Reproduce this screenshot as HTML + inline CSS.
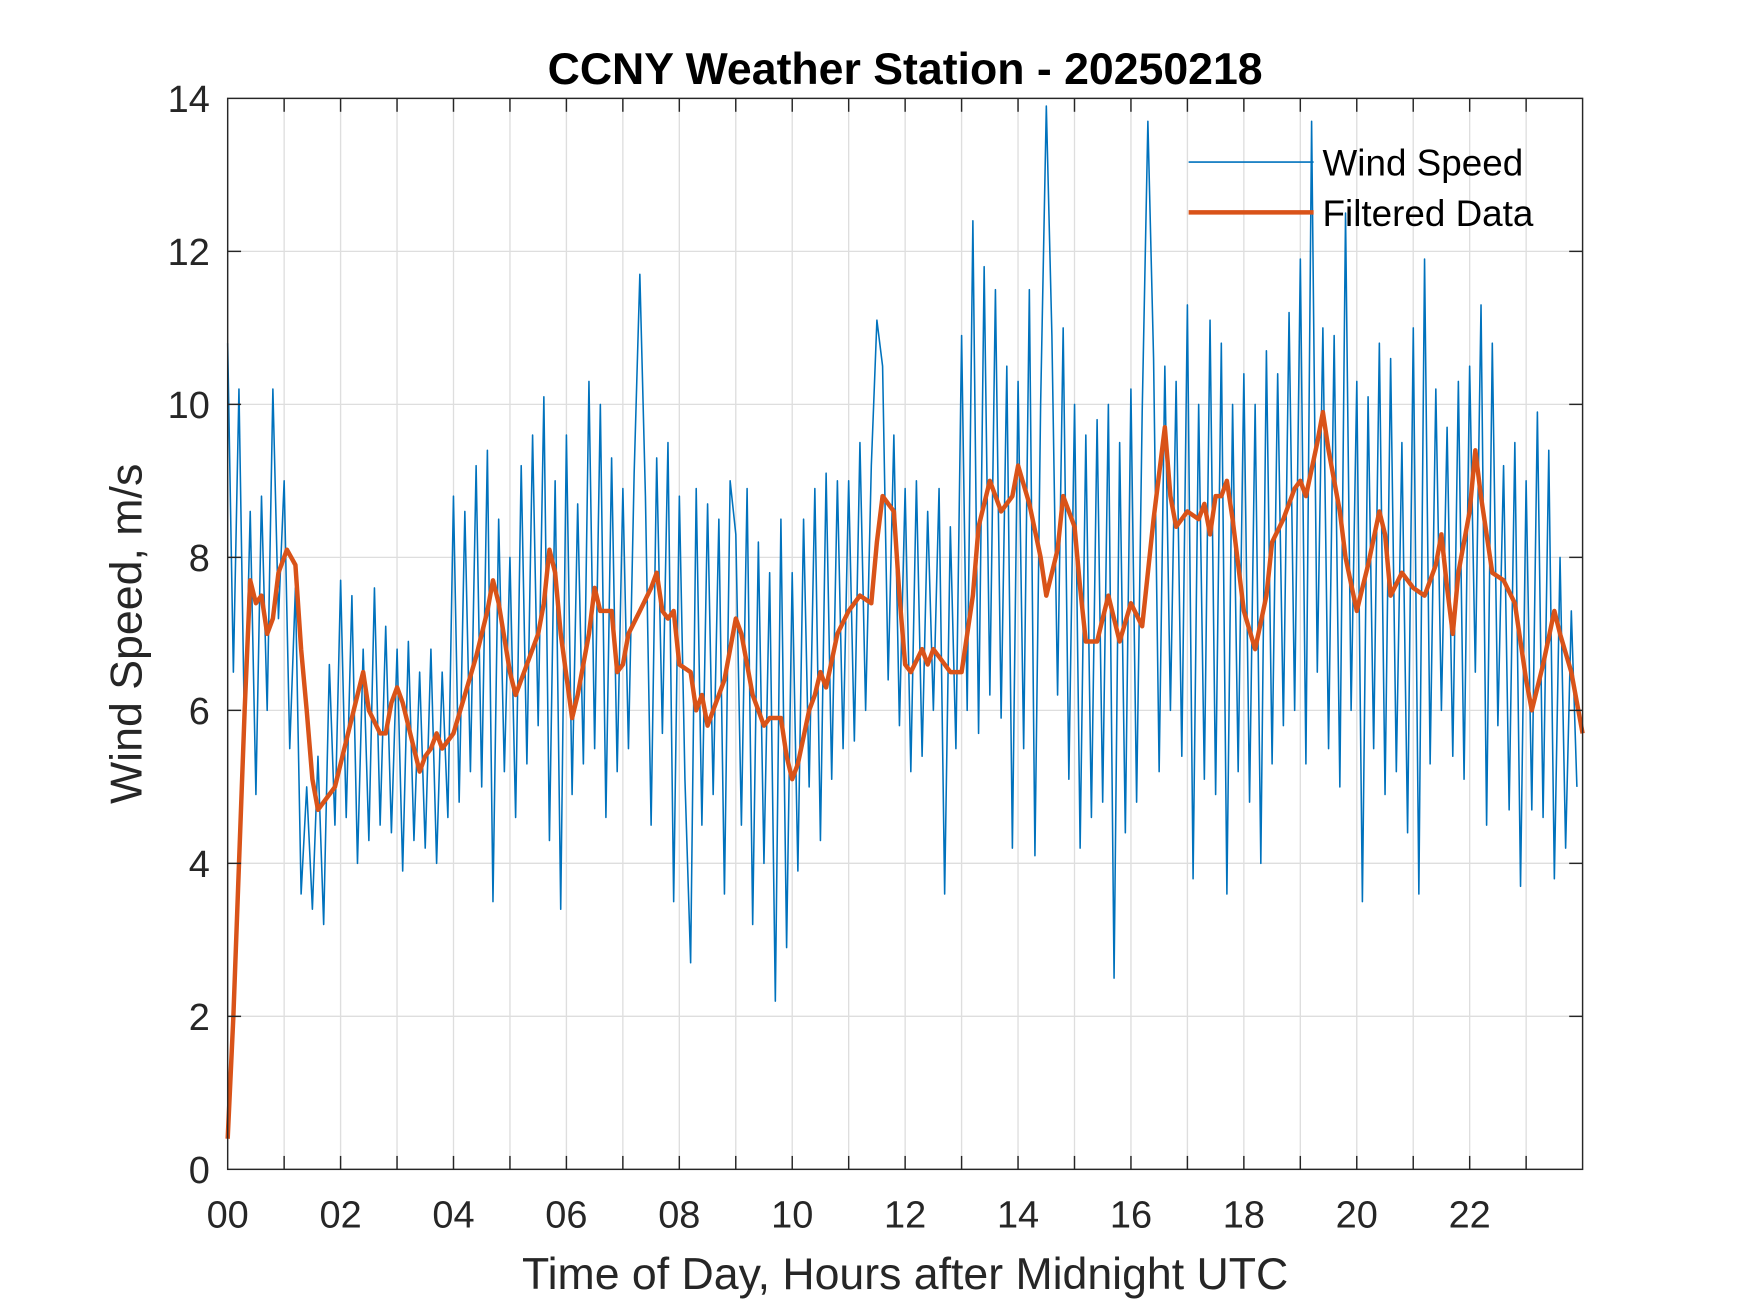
<!DOCTYPE html>
<html><head><meta charset="utf-8"><style>
html,body{margin:0;padding:0;background:#fff;}
svg{display:block;font-family:"Liberation Sans",Arial,sans-serif;}
</style></head><body>
<svg id="chart" width="1750" height="1313" viewBox="0 0 1568 1174.5" preserveAspectRatio="none" xmlns="http://www.w3.org/2000/svg">
<rect x="0" y="0" width="1568" height="1174.5" fill="#fff"/>
<rect x="204" y="88" width="1214" height="958" fill="#fff"/>
<g id="grid"></g>
<g id="series"></g>
<rect x="204" y="88" width="1214" height="958" fill="none" stroke="#262626" stroke-width="1.3"/>
<g id="ticks"></g>
<text x="811" y="75" text-anchor="middle" font-size="40" font-weight="bold" fill="#000">CCNY Weather Station - 20250218</text>
<text x="811" y="1153" text-anchor="middle" font-size="40" fill="#262626">Time of Day, Hours after Midnight UTC</text>
<text transform="translate(127,567) rotate(-90)" text-anchor="middle" font-size="40" fill="#262626">Wind Speed, m/s</text>
<g>
<line x1="1065" y1="145" x2="1177" y2="145" stroke="#0072BD" stroke-width="1.5"/>
<text x="1185" y="157" font-size="33" fill="#000">Wind Speed</text>
<line x1="1065" y1="190" x2="1177" y2="190" stroke="#D95319" stroke-width="4"/>
<text x="1185" y="202" font-size="33" fill="#000">Filtered Data</text>
</g>
</svg>
<script>
const xTickLabels = ["00","02","04","06","08","10","12","14","16","18","20","22"];
const yTickLabels = ["0","2","4","6","8","10","12","14"];
const windSpeed = [
10.8,6.5,10.2,5.6,8.6,4.9,8.8,6.0,10.2,7.2,
9.0,5.5,7.6,3.6,5.0,3.4,5.4,3.2,6.6,4.5,
7.7,4.6,7.5,4.0,6.8,4.3,7.6,4.5,7.1,4.4,
6.8,3.9,6.9,4.3,6.5,4.2,6.8,4.0,6.5,4.6,
8.8,4.8,8.6,5.2,9.2,5.0,9.4,3.5,8.5,5.2,
8.0,4.6,9.2,5.3,9.6,5.8,10.1,4.3,9.0,3.4,
9.6,4.9,8.7,5.3,10.3,5.5,10.0,4.6,9.3,5.2,
8.9,5.5,9.1,11.7,8.8,4.5,9.3,5.7,9.5,3.5,
8.8,5.1,2.7,8.9,4.5,8.7,4.9,8.5,3.6,9.0,
8.3,4.5,8.9,3.2,8.2,4.0,7.8,2.2,8.5,2.9,
7.8,3.9,8.5,5.0,8.9,4.3,9.1,5.1,9.0,5.5,
9.0,5.6,9.5,6.0,9.2,11.1,10.5,6.4,9.6,5.8,
8.9,5.2,9.0,5.4,8.6,6.0,8.9,3.6,8.4,5.5,
10.9,6.0,12.4,5.7,11.8,6.2,11.5,5.9,10.5,4.2,
10.3,5.5,11.5,4.1,10.0,13.9,10.9,6.2,11.0,5.1,
10.0,4.2,9.6,4.6,9.8,4.8,10.0,2.5,9.5,4.4,
10.2,4.8,9.9,13.7,10.6,5.2,10.5,6.0,10.3,5.4,
11.3,3.8,10.0,5.1,11.1,4.9,10.8,3.6,10.0,5.2,
10.4,4.8,10.0,4.0,10.7,5.3,10.4,5.8,11.2,6.0,
11.9,5.3,13.7,6.5,11.0,5.5,10.9,5.0,12.5,6.0,
10.3,3.5,10.1,5.5,10.8,4.9,10.6,5.2,9.5,4.4,
11.0,3.6,11.9,5.3,10.2,6.0,9.7,5.4,10.3,5.1,
10.5,6.5,11.3,4.5,10.8,5.8,9.2,4.7,9.5,3.7,
9.0,4.7,9.9,4.6,9.4,3.8,8.0,4.2,7.3,5.0
];
const windStepHours = 0.1;
const filteredHours = [0,0.1,0.3,0.4,0.5,0.6,0.7,0.8,0.9,1.05,1.2,1.3,1.4,1.5,1.6,1.7,1.9,2.1,2.3,2.4,2.5,2.7,2.8,2.9,3.0,3.1,3.3,3.4,3.5,3.6,3.7,3.8,4.0,4.2,4.4,4.6,4.7,4.8,5.0,5.1,5.3,5.5,5.6,5.7,5.8,5.9,6.1,6.2,6.4,6.5,6.6,6.8,6.9,7.0,7.1,7.3,7.5,7.6,7.7,7.8,7.9,8.0,8.2,8.3,8.4,8.5,8.6,8.8,9.0,9.1,9.3,9.4,9.5,9.6,9.8,9.9,10.0,10.1,10.3,10.4,10.5,10.6,10.8,11.0,11.2,11.4,11.5,11.6,11.8,11.9,12.0,12.1,12.3,12.4,12.5,12.6,12.8,13.0,13.2,13.3,13.5,13.7,13.9,14.0,14.2,14.4,14.5,14.7,14.8,15.0,15.1,15.2,15.4,15.5,15.6,15.8,16.0,16.2,16.4,16.6,16.7,16.8,17.0,17.2,17.3,17.4,17.5,17.6,17.7,17.8,18.0,18.2,18.4,18.5,18.7,18.9,19.0,19.1,19.3,19.4,19.5,19.7,19.8,20.0,20.1,20.2,20.4,20.5,20.6,20.8,21.0,21.2,21.4,21.5,21.6,21.7,21.8,22.0,22.1,22.2,22.4,22.6,22.8,23.0,23.1,23.3,23.5,23.6,23.8,24.0];
const filteredValues = [0.4,2,6,7.7,7.4,7.5,7.0,7.2,7.8,8.1,7.9,6.8,6.0,5.1,4.7,4.8,5.0,5.6,6.2,6.5,6.0,5.7,5.7,6.1,6.3,6.1,5.5,5.2,5.4,5.5,5.7,5.5,5.7,6.2,6.7,7.3,7.7,7.4,6.5,6.2,6.6,7.0,7.4,8.1,7.8,7.0,5.9,6.2,7.0,7.6,7.3,7.3,6.5,6.6,7.0,7.3,7.6,7.8,7.3,7.2,7.3,6.6,6.5,6.0,6.2,5.8,6.0,6.4,7.2,7.0,6.2,6.0,5.8,5.9,5.9,5.4,5.1,5.3,6.0,6.2,6.5,6.3,7.0,7.3,7.5,7.4,8.2,8.8,8.6,7.5,6.6,6.5,6.8,6.6,6.8,6.7,6.5,6.5,7.5,8.4,9.0,8.6,8.8,9.2,8.7,8.0,7.5,8.1,8.8,8.4,7.6,6.9,6.9,7.2,7.5,6.9,7.4,7.1,8.5,9.7,8.8,8.4,8.6,8.5,8.7,8.3,8.8,8.8,9.0,8.5,7.3,6.8,7.5,8.2,8.5,8.9,9.0,8.8,9.5,9.9,9.4,8.6,8.0,7.3,7.6,7.9,8.6,8.3,7.5,7.8,7.6,7.5,7.9,8.3,7.6,7.0,7.8,8.6,9.4,8.8,7.8,7.7,7.4,6.4,6.0,6.6,7.3,7.0,6.5,5.7];

const NS = "http://www.w3.org/2000/svg";
const X0 = 204, X1 = 1418, Y0 = 1046, Y1 = 88;
function xScale(h){ return X0 + (h/24)*(X1-X0); }
function yScale(v){ return Y0 - (v/14)*(Y0-Y1); }
function mk(tag, attrs, parent){ const e=document.createElementNS(NS,tag); for(const k in attrs) e.setAttribute(k,attrs[k]); parent.appendChild(e); return e; }

const grid = document.getElementById('grid');
const ticks = document.getElementById('ticks');
for (let h=1; h<24; h++){
  const x = xScale(h);
  const gl = mk('line',{x1:x,y1:Y1,x2:x,y2:Y0,stroke:'#dedede','stroke-width':1.2},grid);
  
  
  const t1 = mk('line',{x1:x,y1:Y0,x2:x,y2:Y0-12,stroke:'#262626','stroke-width':1.3},ticks);
  
  
  const t2 = mk('line',{x1:x,y1:Y1,x2:x,y2:Y1+12,stroke:'#262626','stroke-width':1.3},ticks);
  
  
}
xTickLabels.forEach((lab,i)=>{
  const t = mk('text',{x:xScale(i*2),y:1098,'text-anchor':'middle','font-size':34,fill:'#262626'},ticks);
  t.textContent = lab;
  
  
});
yTickLabels.forEach((lab,i)=>{
  const v = Number(lab), y = yScale(v);
  if (v>0 && v<14){
    const gl = mk('line',{x1:X0,y1:y,x2:X1,y2:y,stroke:'#dedede','stroke-width':1.2},grid);
    
    
    const t1 = mk('line',{x1:X0,y1:y,x2:X0+12,y2:y,stroke:'#262626','stroke-width':1.3},ticks);
    
    
    const t2 = mk('line',{x1:X1,y1:y,x2:X1-12,y2:y,stroke:'#262626','stroke-width':1.3},ticks);
    
    
  }
  const t = mk('text',{x:188,y:y+12,'text-anchor':'end','font-size':34,fill:'#262626'},ticks);
  t.textContent = lab;
  
  
});

const series = document.getElementById('series');
const wp = windSpeed.map((v,i)=>xScale(i*windStepHours).toFixed(1)+','+yScale(v).toFixed(1)).join(' ');
const wl = mk('polyline',{points:wp,fill:'none',stroke:'#0072BD','stroke-width':1.4,'stroke-linejoin':'round'},series);


const fp = filteredValues.map((v,i)=>xScale(filteredHours[i]).toFixed(1)+','+yScale(v).toFixed(1)).join(' ');
const fl = mk('polyline',{points:fp,fill:'none',stroke:'#D95319','stroke-width':4,'stroke-linejoin':'round'},series);


</script>
</body></html>
